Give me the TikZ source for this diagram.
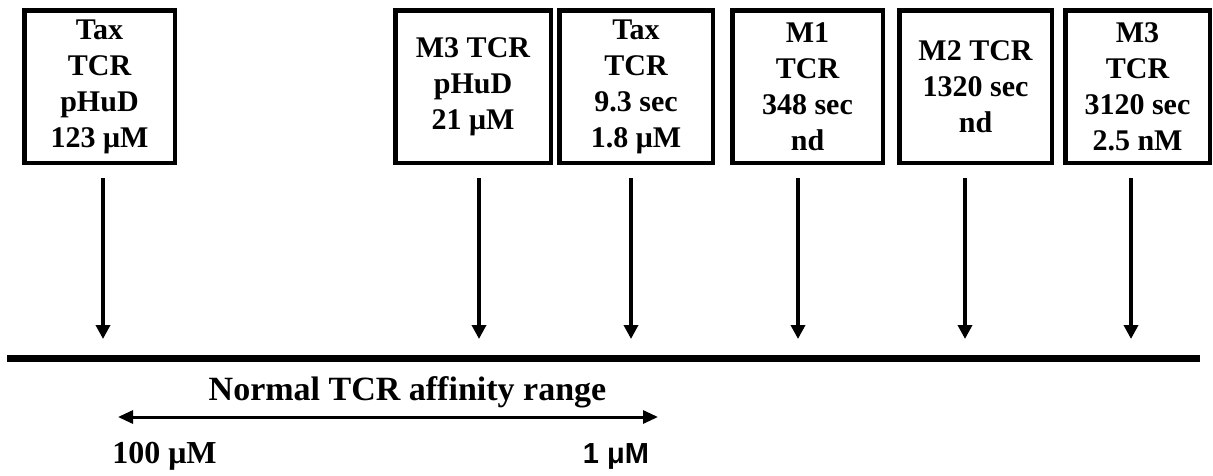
\documentclass[tikz,border=0pt]{standalone}
\usepackage{fontspec}
\setmainfont{Liberation Serif}
\newfontfamily\arialfont{Liberation Sans}
\usetikzlibrary{arrows.meta, positioning}

\begin{document}
\begin{tikzpicture}[x=1pt, y=-1pt,
    tcrbox/.style={rectangle, draw=black, line width=4.5pt, inner sep=2pt,
                   minimum height=152.5pt, align=center,
                   font=\fontsize{30}{36}\selectfont\bfseries},
    pointer/.style={-{Triangle[length=14pt, width=14pt]}, line width=3.5pt},
    axisline/.style={line width=7pt},
    rangearrow/.style={{Triangle[length=15pt, width=13pt]}-{Triangle[length=15pt, width=13pt]},
                  line width=3pt},
    ticklabel/.style={anchor=base, font=\fontsize{32}{38}\selectfont\bfseries}
]

\useasboundingbox (0,0) rectangle (1213,475);

%% TCR boxes
\node[tcrbox, minimum width=150.5pt] (taxhud) at (99.5,86.5)  {Tax\\TCR\\pHuD\\123 μM};
\node[tcrbox, minimum width=155.5pt] (mthud)  at (473,86.5)   {M3 TCR\\pHuD\\21 μM};
\node[tcrbox, minimum width=153.5pt] (taxtcr) at (636,86.5)   {Tax\\TCR\\9.3 sec\\1.8 μM};
\node[tcrbox, minimum width=150.5pt] (mone)   at (807.5,86.5) {M1\\TCR\\348 sec\\nd};
\node[tcrbox, minimum width=152.5pt] (mtwo)   at (975.5,86.5) {M2 TCR\\1320 sec\\nd};
\node[tcrbox, minimum width=144.5pt] (mthree) at (1137.5,86.5) {M3\\TCR\\3120 sec\\2.5 nM};

%% Pointers onto the affinity axis
\foreach \n/\x in {a/103, b/479, c/631, d/798, e/965, f/1131} {
  \coordinate (top\n) at (\x,178);
  \coordinate (tip\n) at (\x,339);
  \draw[pointer] (top\n) -- (tip\n);
}

%% Affinity axis
\coordinate (axisL) at (7,358);
\coordinate (axisR) at (1200,358);
\draw[axisline] (axisL) -- (axisR);

%% Normal range
\node[anchor=base, font=\fontsize{34}{40}\selectfont\bfseries] (rangelabel) at (407.5,400)
     {Normal TCR affinity range};
\coordinate (lowend)  at (118,417);
\coordinate (highend) at (658,417);
\draw[rangearrow] (lowend) -- (highend);

\node[ticklabel] (lowlabel) at (164.5,463) {100 μM};
\node[ticklabel, font=\arialfont\fontsize{29}{35}\selectfont\bfseries] (highlabel) at (616,463) {1 μM};

\end{tikzpicture}
\end{document}
